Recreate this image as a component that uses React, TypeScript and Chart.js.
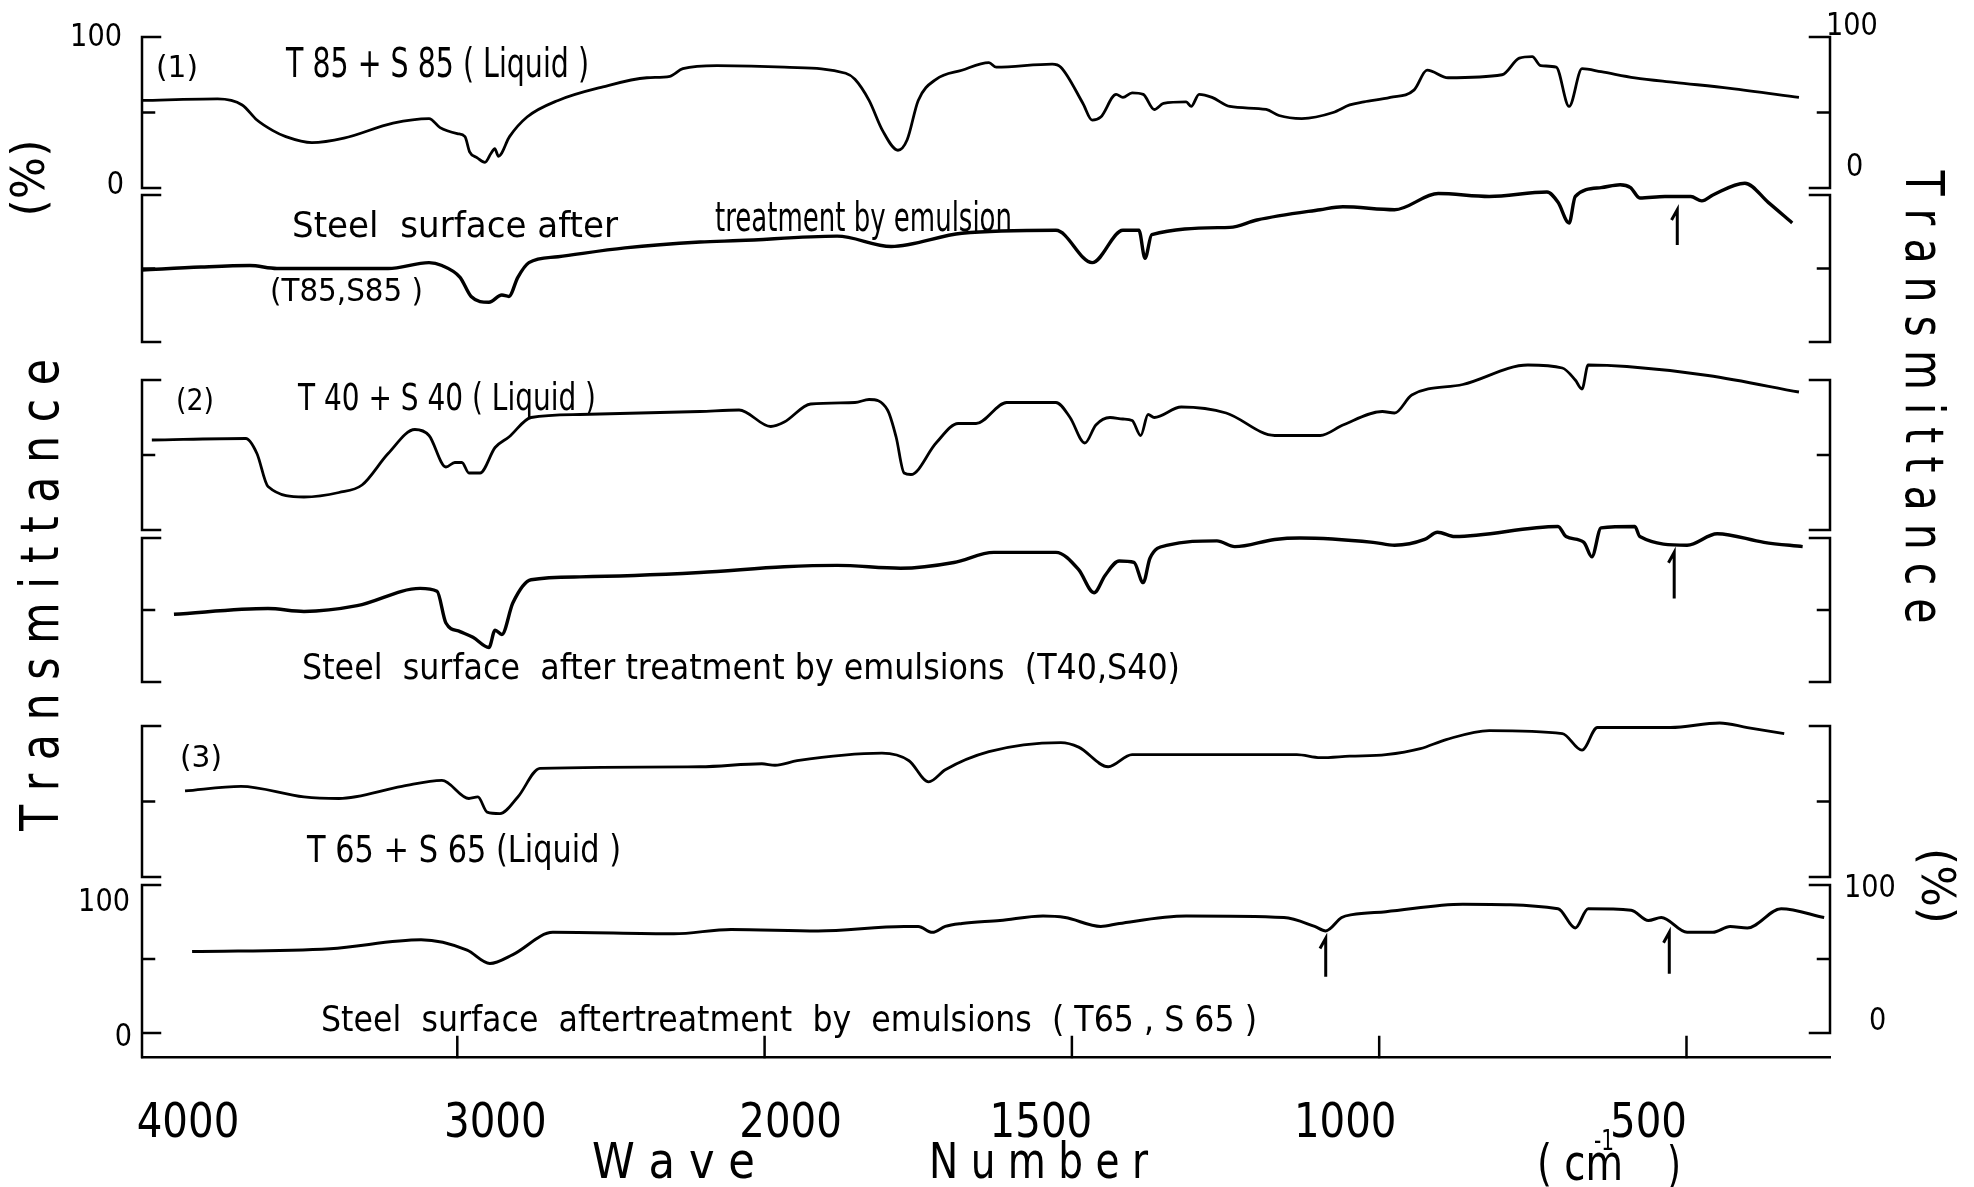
import React, { useEffect, useRef } from 'react';
import { Chart, registerables } from 'chart.js';

Chart.register(...registerables);

// ---------- data (wavenumber in cm-1, transmittance in % of each panel) ----------
const TICK_LABELS = [4000, 3000, 2000, 1500, 1000, 500];

// (1) T85 + S85 liquid
const WN_1A = [4025, 3780, 3700, 3652, 3600, 3558, 3473, 3369, 3209, 3092, 3056, 3000, 2975, 2960, 2935, 2910, 2890, 2878, 2866, 2830, 2773, 2672, 2526, 2383, 2308, 2266, 2155, 1968, 1868, 1853, 1830, 1808, 1783, 1768, 1750, 1721, 1679, 1635, 1623, 1532, 1518, 1482, 1467, 1453, 1428, 1417, 1402, 1384, 1366, 1351, 1314, 1306, 1293, 1272, 1243, 1184, 1163, 1126, 1075, 1048, 1025, 982, 943, 922, 888, 800, 772, 751, 737, 712, 691, 670, 639, 584, 520, 429, 317];
const T_1A = [58, 59, 55, 45, 38, 34, 30, 33, 43, 46, 40, 36, 34, 24, 20, 17, 23, 26, 21, 34, 47, 58, 67, 73, 74, 79, 81, 80, 76, 72, 58, 38, 25, 32, 58, 72, 78, 83, 80, 82, 80, 56, 45, 47, 62, 60, 63, 62, 52, 56, 57, 54, 62, 60, 54, 52, 48, 46, 50, 55, 57, 60, 65, 78, 73, 75, 86, 87, 81, 80, 54, 79, 77, 73, 70, 66, 60];

// (1) steel surface after treatment (T85, S85)
const WN_1B = [4025, 3834, 3675, 3587, 3473, 3225, 3092, 3050, 2991, 2955, 2897, 2855, 2832, 2803, 2767, 2672, 2454, 2210, 2083, 1882, 1794, 1679, 1526, 1467, 1417, 1391, 1381, 1370, 1243, 1199, 1096, 1059, 975, 904, 821, 727, 709, 691, 681, 639, 608, 591, 576, 535, 493, 475, 457, 405, 367, 328];
const T_1B = [49, 51, 52, 50, 50, 50, 54, 52, 44, 31, 27, 32, 31, 44, 54, 58, 64, 68, 69, 72, 65, 74, 76, 54, 76, 76, 57, 73, 78, 83, 90, 92, 90, 101, 99, 102, 95, 81, 99, 105, 107, 105, 98, 99, 99, 96, 100, 108, 95, 81];

// (2) T40 + S40 liquid
const WN_2A = [3994, 3688, 3652, 3616, 3499, 3385, 3310, 3225, 3138, 3092, 3037, 3008, 2985, 2962, 2926, 2877, 2832, 2760, 2601, 2210, 2083, 1990, 1968, 1925, 1853, 1830, 1800, 1786, 1773, 1762, 1721, 1685, 1656, 1606, 1526, 1503, 1479, 1461, 1438, 1417, 1402, 1388, 1376, 1366, 1322, 1249, 1170, 1096, 1059, 995, 975, 947, 864, 758, 702, 681, 670, 660, 597, 465, 317];
const T_2A = [60, 61, 51, 29, 22, 25, 30, 51, 67, 63, 42, 45, 45, 38, 38, 55, 62, 75, 77, 79, 80, 69, 72, 84, 85, 87, 80, 62, 38, 37, 58, 71, 71, 85, 85, 75, 58, 70, 75, 74, 73, 63, 77, 75, 82, 78, 63, 63, 70, 79, 78, 90, 97, 110, 108, 100, 94, 110, 109, 103, 92];

// (2) steel surface after treatment (T40, S40)
const WN_2B = [3922, 3616, 3499, 3326, 3121, 3066, 3037, 2991, 2949, 2897, 2877, 2855, 2819, 2760, 2601, 2210, 1968, 1882, 1779, 1692, 1627, 1526, 1489, 1464, 1446, 1423, 1399, 1384, 1373, 1344, 1264, 1235, 1170, 1129, 1010, 975, 926, 905, 877, 709, 696, 667, 654, 639, 584, 576, 499, 450, 374, 311];
const T_2B = [47, 51, 49, 53, 65, 63, 41, 35, 31, 24, 36, 33, 55, 71, 73, 76, 80, 81, 79, 83, 90, 90, 78, 62, 74, 84, 83, 69, 86, 95, 98, 94, 99, 100, 97, 95, 99, 104, 101, 108, 101, 97, 87, 107, 108, 101, 95, 103, 97, 94];

// (3) T65 + S65 liquid
const WN_3A = [3886, 3704, 3499, 3385, 3180, 3050, 2962, 2933, 2903, 2861, 2803, 2731, 2210, 2009, 1983, 1947, 1809, 1765, 1733, 1706, 1635, 1518, 1489, 1441, 1402, 1243, 1134, 1096, 1048, 989, 933, 891, 821, 702, 670, 645, 526, 446, 401, 341];
const T_3A = [57, 60, 53, 52, 60, 64, 52, 53, 43, 42, 53, 72, 73, 75, 74, 77, 82, 77, 63, 71, 83, 89, 86, 73, 81, 81, 81, 79, 80, 81, 85, 91, 97, 95, 84, 99, 99, 102, 99, 95];

// (3) steel surface after treatment (T65, S65)
const WN_3B = [3863, 3414, 3118, 2968, 2894, 2819, 2689, 2295, 2109, 1913, 1773, 1750, 1727, 1706, 1679, 1617, 1547, 1511, 1453, 1423, 1314, 1155, 1105, 1087, 1061, 1044, 989, 864, 709, 681, 660, 590, 562, 541, 499, 457, 429, 401, 346, 276];
const T_3B = [55, 57, 63, 56, 47, 53, 68, 67, 70, 69, 72, 72, 68, 72, 74, 76, 79, 78, 72, 74, 79, 78, 72, 69, 78, 80, 82, 87, 84, 71, 84, 83, 76, 78, 68, 68, 72, 71, 84, 78];

// band markers drawn under the steel spectra: panel index, wavenumber, low %, high %
const MARK_PANEL = [1, 3, 5, 5];
const MARK_WN = [515, 520, 1087, 528];
const MARK_LO = [67, 59, 39, 41];
const MARK_HI = [90, 90, 64, 68];

// ---------- layout (not data) ----------
const FONT = '"DejaVu Sans", "Liberation Sans", "Noto Sans", sans-serif';
const Y_MAX = 1027;
const X_MIN = -0.026;
const X_MAX = 5.467;
// horizontal nudge (px) of each wavenumber label from its tick, as placed in the original
const TICK_LABEL_NUDGE = [38, 38, 26, -31, -34, -38];
// vertical placement of each 0-100 % panel inside the shared y scale
const PANELS = [
  { base: 869, height: 151 },
  { base: 715, height: 147 },
  { base: 527, height: 150 },
  { base: 375, height: 144 },
  { base: 180, height: 151 },
  { base: 24, height: 148 },
];

const SERIES = [
  { wn: WN_1A, t: T_1A, panel: 0, lw: 2.8 },
  { wn: WN_1B, t: T_1B, panel: 1, lw: 3.4 },
  { wn: WN_2A, t: T_2A, panel: 2, lw: 2.8 },
  { wn: WN_2B, t: T_2B, panel: 3, lw: 3.4 },
  { wn: WN_3A, t: T_3A, panel: 4, lw: 2.8 },
  { wn: WN_3B, t: T_3B, panel: 5, lw: 3.0 },
];

// piecewise wavenumber axis (scale change at 2000 cm-1)
function toU(w: number): number {
  return w >= 2000 ? (4000 - w) / 1000 : 2 + (2000 - w) / 500;
}

type TextItem = {
  text: string; x: number; y: number; size: number;
  width?: number; squeeze?: number; align?: CanvasTextAlign; baseline?: CanvasTextBaseline; rotate?: number;
};

const TEXTS: TextItem[] = [
  { text: '(1)', x: 156, y: 77, size: 30, width: 42 },
  { text: 'T 85 + S 85 ( Liquid )', x: 286, y: 77, size: 40, width: 303 },
  { text: 'Steel  surface after', x: 292, y: 237, size: 35, width: 326 },
  { text: 'treatment by emulsion', x: 715, y: 231, size: 40, width: 297 },
  { text: '(T85,S85 )', x: 270, y: 301, size: 32, width: 153 },
  { text: '(2)', x: 176, y: 410, size: 30, width: 38 },
  { text: 'T 40 + S 40 ( Liquid )', x: 298, y: 410, size: 37, width: 298 },
  { text: 'Steel  surface  after treatment by emulsions  (T40,S40)', x: 302, y: 679, size: 35, width: 878 },
  { text: '(3)', x: 180, y: 767, size: 30, width: 42 },
  { text: 'T 65 + S 65 (Liquid )', x: 307, y: 862, size: 37, width: 314 },
  { text: 'Steel  surface  aftertreatment  by  emulsions  ( T65 , S 65 )', x: 321, y: 1031, size: 35, width: 936 },
  // panel scale labels
  { text: '100', x: 122, y: 38, size: 32, squeeze: 0.85, align: 'right', baseline: 'middle' },
  { text: '0', x: 124, y: 186, size: 32, squeeze: 0.85, align: 'right', baseline: 'middle' },
  { text: '100', x: 130, y: 903, size: 32, squeeze: 0.85, align: 'right', baseline: 'middle' },
  { text: '0', x: 132, y: 1038, size: 32, squeeze: 0.85, align: 'right', baseline: 'middle' },
  { text: '100', x: 1826, y: 27, size: 32, squeeze: 0.85, align: 'left', baseline: 'middle' },
  { text: '0', x: 1846, y: 168, size: 32, squeeze: 0.85, align: 'left', baseline: 'middle' },
  { text: '100', x: 1844, y: 889, size: 32, squeeze: 0.85, align: 'left', baseline: 'middle' },
  { text: '0', x: 1869, y: 1022, size: 32, squeeze: 0.85, align: 'left', baseline: 'middle' },
  // axis titles
  { text: '(%)', x: 32, y: 178, size: 46, width: 77, align: 'center', baseline: 'middle', rotate: -Math.PI / 2 },
  { text: 'T r a n s m i t t a n c e', x: 44, y: 595, size: 54, width: 472, align: 'center', baseline: 'middle', rotate: -Math.PI / 2 },
  { text: 'T r a n s m i t t a n c e', x: 1920, y: 397, size: 54, width: 453, align: 'center', baseline: 'middle', rotate: Math.PI / 2 },
  { text: '(%)', x: 1934, y: 886, size: 46, width: 76, align: 'center', baseline: 'middle', rotate: Math.PI / 2 },
  { text: 'W a v e', x: 592, y: 1178, size: 50, width: 163 },
  { text: 'N u m b e r', x: 929, y: 1178, size: 50, width: 219 },
  { text: '( cm', x: 1537, y: 1180, size: 50, width: 86 },
  { text: '-1', x: 1594, y: 1150, size: 28, width: 20 },
  { text: ')', x: 1667, y: 1182, size: 50, width: 14 },
];

function drawText(ctx: CanvasRenderingContext2D, t: TextItem) {
  ctx.save();
  ctx.font = `${t.size}px ${FONT}`;
  const m = ctx.measureText(t.text).width || 1;
  const sx = t.width ? t.width / m : (t.squeeze ?? 1);
  ctx.translate(t.x, t.y);
  if (t.rotate) ctx.rotate(t.rotate);
  ctx.scale(sx, 1);
  ctx.textAlign = t.align ?? 'left';
  ctx.textBaseline = t.baseline ?? 'alphabetic';
  ctx.fillStyle = '#000';
  ctx.fillText(t.text, 0, 0);
  ctx.restore();
}

const framePlugin = {
  id: 'irFrame',
  afterDatasetsDraw(chart: any) {
    const { ctx, chartArea, scales } = chart;
    const xs = scales.x;
    const ys = scales.y;
    const L = chartArea.left;
    const R = chartArea.right;
    ctx.save();
    ctx.strokeStyle = '#000';
    ctx.lineWidth = 2.5;
    ctx.lineCap = 'square';
    // panel brackets
    PANELS.forEach((p, i) => {
      const yt = ys.getPixelForValue(p.base + p.height);
      const yb = ys.getPixelForValue(p.base);
      const ym = (yt + yb) / 2;
      const last = i === PANELS.length - 1;
      ctx.beginPath();
      ctx.moveTo(L + 18, yt);
      ctx.lineTo(L, yt);
      ctx.lineTo(L, last ? chartArea.bottom : yb);
      ctx.moveTo(L, yb);
      ctx.lineTo(L + 18, yb);
      ctx.moveTo(L, ym);
      ctx.lineTo(L + 12, ym);
      ctx.moveTo(R - 20, yt);
      ctx.lineTo(R, yt);
      ctx.lineTo(R, yb);
      ctx.lineTo(R - 20, yb);
      ctx.moveTo(R, ym);
      ctx.lineTo(R - 12, ym);
      ctx.stroke();
    });
    // inward tick marks on the wavenumber axis
    ctx.beginPath();
    TICK_LABELS.slice(1).forEach((w) => {
      const x = xs.getPixelForValue(toU(w));
      ctx.moveTo(x, chartArea.bottom);
      ctx.lineTo(x, chartArea.bottom - 20);
    });
    ctx.stroke();
    // band markers
    ctx.lineWidth = 3;
    MARK_WN.forEach((w, i) => {
      const p = PANELS[MARK_PANEL[i]];
      const x = xs.getPixelForValue(toU(w));
      const yLo = ys.getPixelForValue(p.base + (MARK_LO[i] * p.height) / 100);
      const yHi = ys.getPixelForValue(p.base + (MARK_HI[i] * p.height) / 100);
      ctx.beginPath();
      ctx.moveTo(x, yLo);
      ctx.lineTo(x, yHi);
      ctx.lineTo(x - 5, yHi + 9);
      ctx.stroke();
    });
    ctx.restore();
    // wavenumber tick labels, placed from the x scale
    TICK_LABELS.forEach((w, i) => {
      drawText(ctx, {
        text: String(w),
        x: xs.getPixelForValue(toU(w)) + TICK_LABEL_NUDGE[i],
        y: chartArea.bottom + 80,
        size: 48,
        squeeze: 0.84,
        align: 'center',
      });
    });
    TEXTS.forEach((t) => drawText(ctx, t));
  },
};

export default function App() {
  const ref = useRef<HTMLCanvasElement>(null);
  useEffect(() => {
    const canvas = ref.current;
    if (!canvas) return;
    const datasets = SERIES.map((s) => {
      const p = PANELS[s.panel];
      return {
        data: s.wn.map((w, i) => ({ x: toU(w), y: p.base + (s.t[i] * p.height) / 100 })),
        borderColor: '#000',
        borderWidth: s.lw,
        pointRadius: 0,
        fill: false,
        cubicInterpolationMode: 'monotone' as const,
        borderJoinStyle: 'round' as const,
      };
    });
    const chart = new Chart(canvas, {
      type: 'line',
      data: { datasets },
      options: {
        animation: false,
        responsive: false,
        events: [],
        layout: { padding: { left: 142, right: 144, top: 30, bottom: 130 } },
        plugins: { legend: { display: false }, tooltip: { enabled: false }, title: { display: false } },
        scales: {
          x: {
            type: 'linear',
            position: 'bottom',
            min: X_MIN,
            max: X_MAX,
            afterBuildTicks: (axis: any) => {
              axis.ticks = TICK_LABELS.map((w) => ({ value: toU(w) }));
            },
            ticks: { display: false },
            grid: { display: false, drawTicks: false },
            border: { display: true, color: '#000', width: 2.5 },
          },
          y: { type: 'linear', display: false, min: 0, max: Y_MAX },
        },
      },
      plugins: [framePlugin],
    });
    return () => chart.destroy();
  }, []);
  return (
    <canvas
      ref={ref}
      width={1974}
      height={1187}
      style={{ position: 'absolute', left: 0, top: 0, width: 1974, height: 1187, display: 'block', background: '#fff' }}
    />
  );
}
